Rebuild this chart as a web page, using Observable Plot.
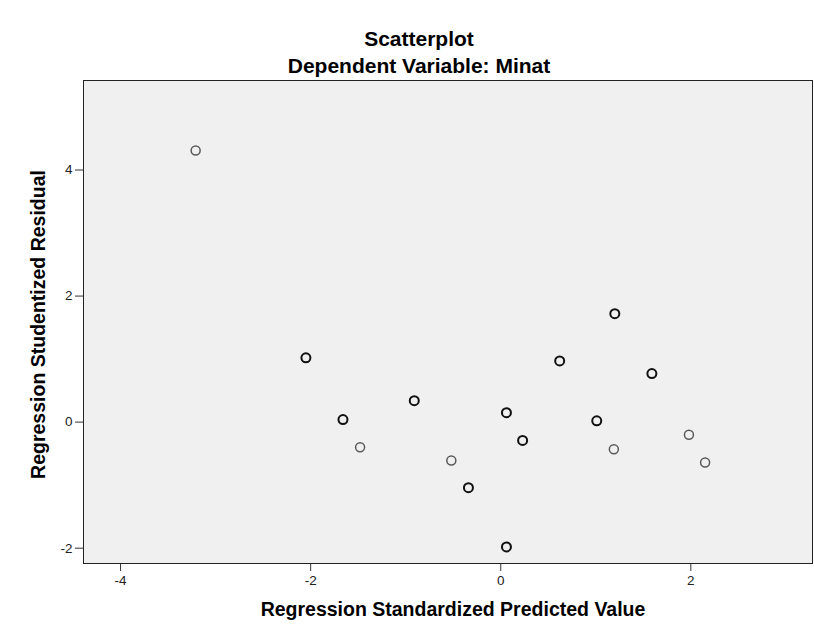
<!DOCTYPE html>
<html>
<head>
<meta charset="utf-8">
<script src="https://cdn.jsdelivr.net/npm/d3@7"></script>
<script src="https://cdn.jsdelivr.net/npm/@observablehq/plot@0.6"></script>
<style>
  html, body { margin: 0; padding: 0; background: #fff; }
  body { width: 814px; height: 643px; overflow: hidden; font-family: "Liberation Sans", Arial, sans-serif; }
  .titles { height: 76px; position: relative; }
  .t1, .t2 { position: absolute; left: 0; width: 838px; text-align: center; font-weight: bold; font-size: 21px; line-height: 21px; color: #000; white-space: nowrap; }
  .t1 { top: 28px; }
  .t2 { top: 55px; }
  #chart svg { display: block; }
</style>
</head>
<body>
<div class="titles">
  <div class="t1">Scatterplot</div>
  <div class="t2">Dependent Variable: Minat</div>
</div>
<div id="chart"></div>
<script>
const predicted = [-3.21, -2.05, -1.66, -1.48, -0.91, -0.52, -0.34, 0.06, 0.06, 0.23, 0.62, 1.01, 1.19, 1.20, 1.59, 1.98, 2.15];
const residual  = [ 4.31,  1.02,  0.04, -0.40,  0.34, -0.61, -1.04, 0.15, -1.98, -0.29, 0.97, 0.02, -0.43, 1.72, 0.77, -0.20, -0.64];
const overlap   = [ 1, 2, 2, 1, 2, 1, 2, 2, 2, 2, 2, 2, 1, 2, 2, 1, 1];
const xTicks = [-4, -2, 0, 2];
const yTicks = [-2, 0, 2, 4];
const xLabel = "Regression Standardized Predicted Value";
const yLabel = "Regression Studentized Residual";

const data = predicted.map((x, i) => ({x, y: residual[i], n: overlap[i]}));
const fmt = d => (d < 0 ? "-" + Math.abs(d) : String(d));

const chart = Plot.plot({
  width: 814,
  height: 567,
  marginTop: 4,
  marginBottom: 80,
  marginLeft: 83,
  marginRight: 2,
  style: {fontFamily: "Liberation Sans, Arial, sans-serif", fontSize: "13px", background: "transparent"},
  x: {domain: [-4.39, 3.28]},
  y: {domain: [-2.243, 5.42]},
  color: {type: "ordinal", domain: [1, 2], range: ["#5a5a5a", "#111111"]},
  marks: [
    Plot.frame({fill: "#f0f0f0", stroke: null}),
    Plot.axisX({ticks: xTicks, tickFormat: fmt, tickSize: 8, tickPadding: 4, label: null, stroke: "#333", color: "#222", fontSize: 13.5}),
    Plot.axisY({ticks: yTicks, tickFormat: fmt, tickSize: 8, tickPadding: 3, label: null, stroke: "#333", color: "#222", fontSize: 13.5}),
    Plot.dot(data, {x: "x", y: "y", r: 4.5, stroke: "n", strokeWidth: d => d.n === 2 ? 2 : 1.5, fill: "none"}),
    Plot.frame({stroke: "#222", strokeWidth: 1}),
    Plot.text([xLabel], {frameAnchor: "bottom", dx: 5, dy: 52, fontWeight: "bold", fontSize: 19.5, fill: "#000"}),
    Plot.text([yLabel], {frameAnchor: "left", dx: -44.5, dy: 2.5, rotate: -90, textAnchor: "middle", fontWeight: "bold", fontSize: 19.5, fill: "#000"})
  ]
});
document.getElementById("chart").appendChild(chart);
</script>
</body>
</html>
